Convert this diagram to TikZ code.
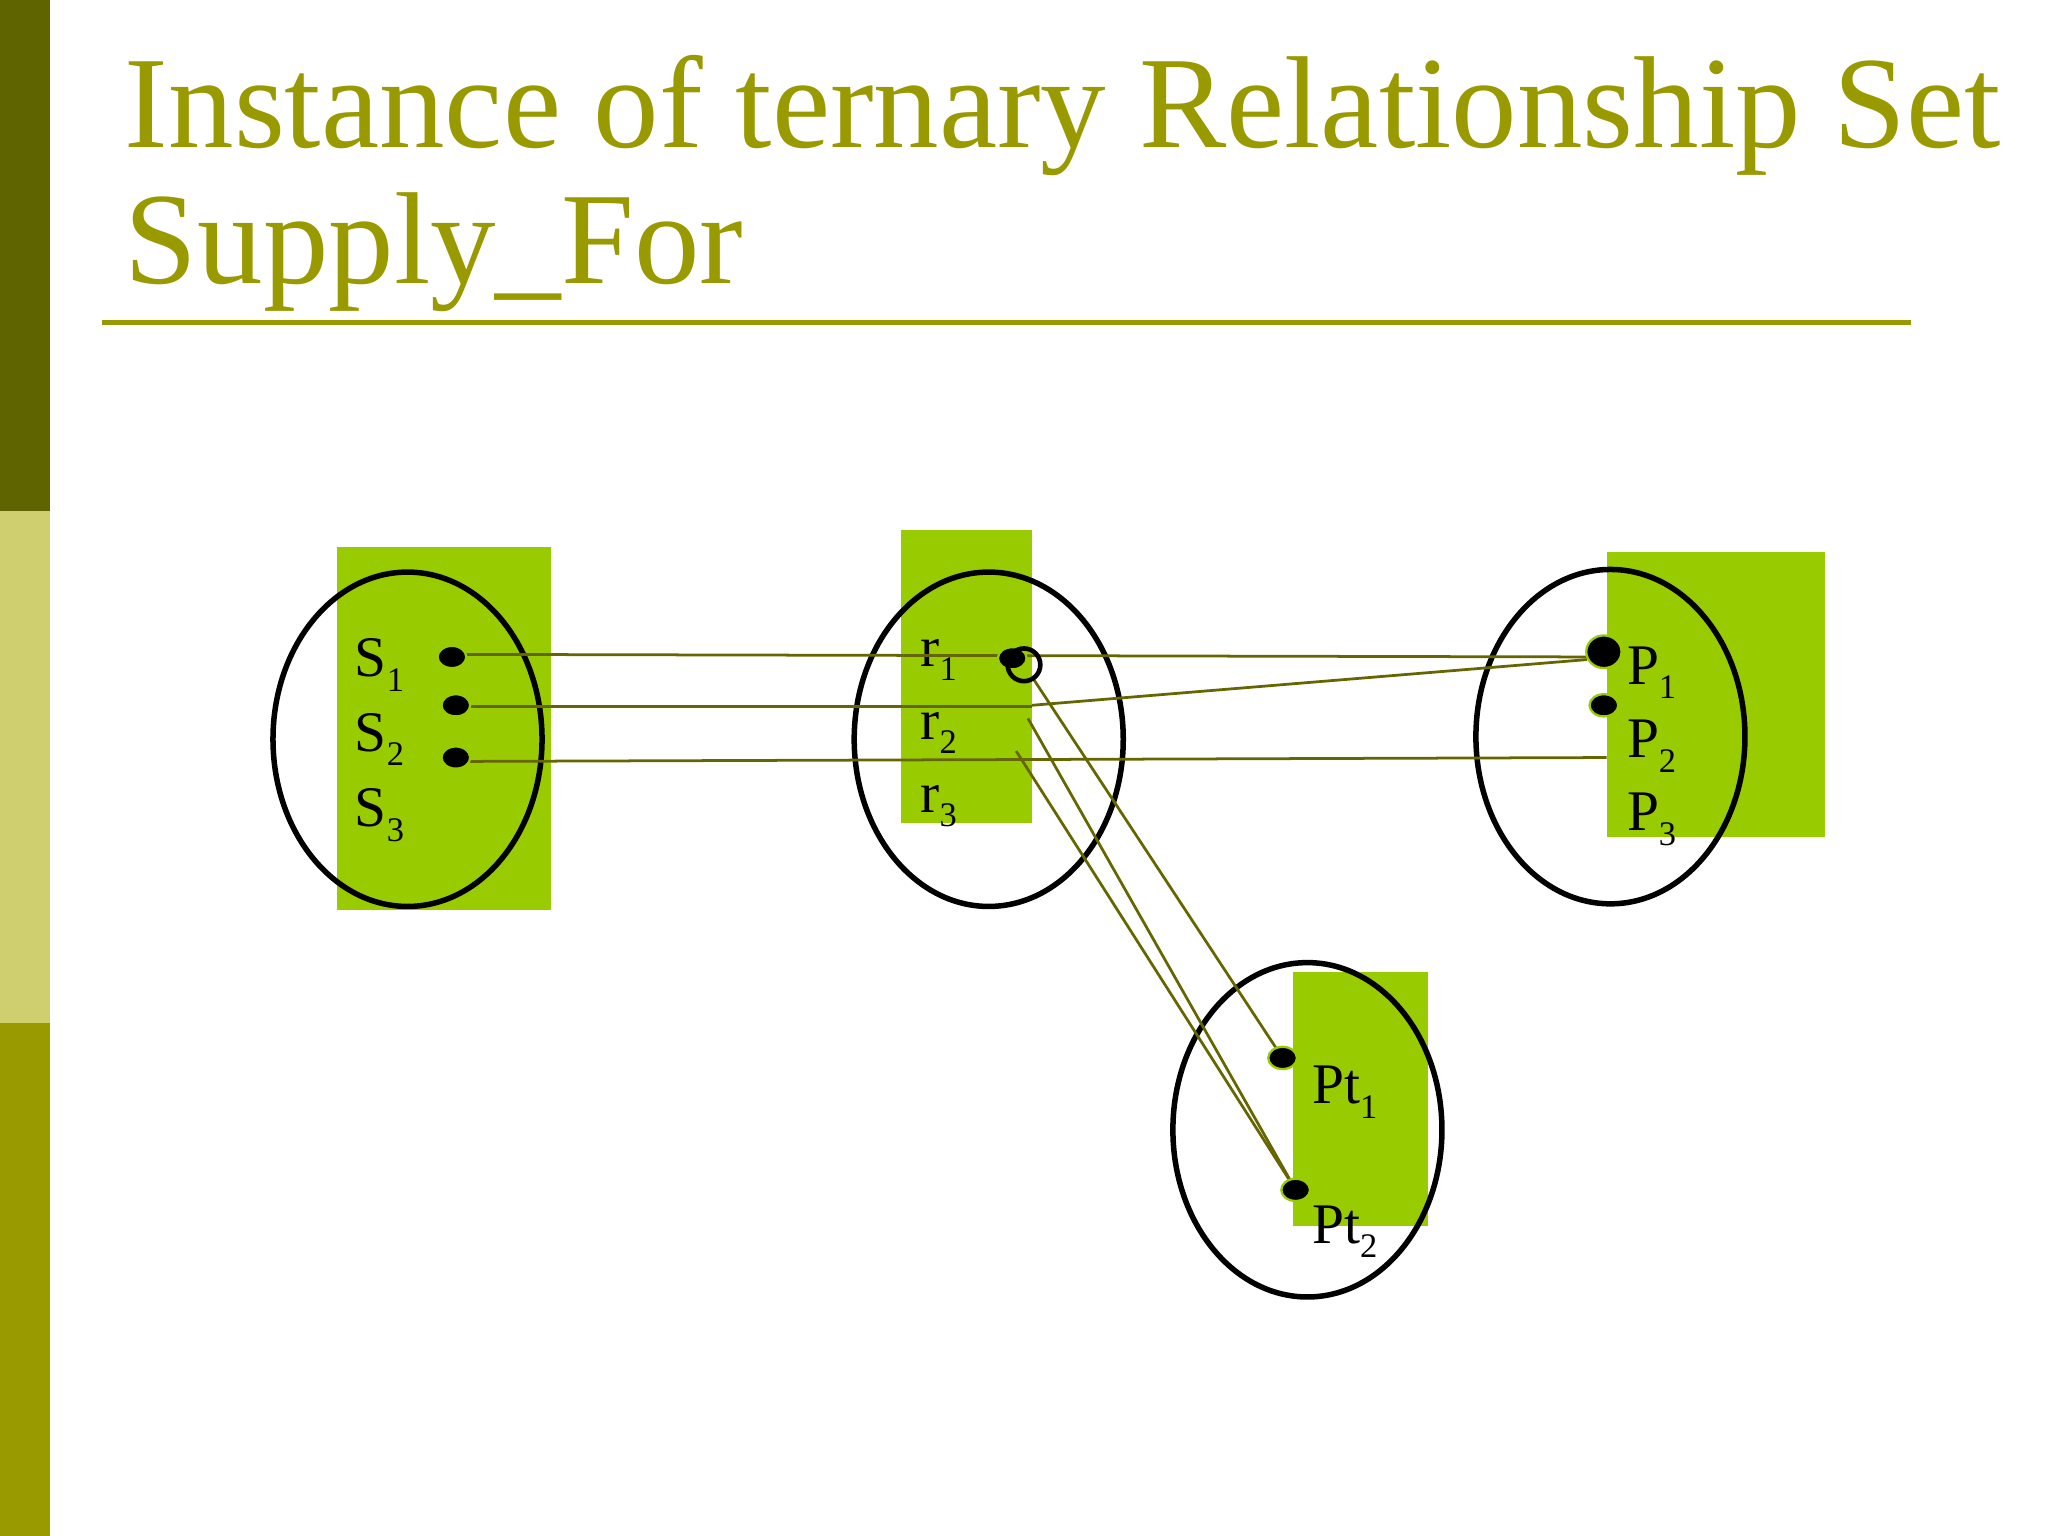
\documentclass[tikz,border=0pt]{standalone}
\usepackage{fontspec}
\setmainfont{Liberation Serif}
\usetikzlibrary{shapes.geometric}
\definecolor{grnc}{RGB}{153,204,0}
\definecolor{bar1}{RGB}{95,99,0}
\definecolor{bar2}{RGB}{207,207,111}
\definecolor{olive}{RGB}{153,153,0}
\definecolor{conc}{RGB}{102,102,0}
\newcommand{\sbs}[1]{\raisebox{-0.55ex}{\fontsize{7.5}{7.5}\selectfont #1}}
\begin{document}
\begin{tikzpicture}[x=0.01cm,y=-0.01cm,
  grn/.style={fill=grnc},
  ell/.style={draw=black,line width=1.2pt},
  dot/.style={ellipse,fill=black,draw=grnc,line width=0.5pt,minimum width=0.22cm,minimum height=0.17cm,inner sep=0},
  con/.style={draw=conc,line width=0.6pt},
  lbl/.style={font=\fontsize{12.5}{12.5}\selectfont,inner sep=0}]
\useasboundingbox (0,0) rectangle (1568,1176);
\fill[white] (0,0) rectangle (1568,1176);
\fill[bar1] (0,0) rectangle (38,391);
\fill[bar2] (0,391) rectangle (38,783);
\fill[olive] (0,783) rectangle (38,1176);
\node[anchor=base west,inner sep=0,text=olive,font=\fontsize{28.5}{28.5}\selectfont] (t1) at (95,113) {Instance of ternary Relationship Set};
\node[anchor=base west,inner sep=0,text=olive,font=\fontsize{28.5}{28.5}\selectfont] (t2) at (95,217) {Supply\_For};
\draw[olive,line width=1.2pt] (78,247) -- (1463,247);
\fill[grn] (258,419) rectangle (422,697);
\fill[grn] (690,406) rectangle (790,630);
\fill[grn] (1230,423) rectangle (1397,641);
\fill[grn] (990,744) rectangle (1093,939);
\draw[ell] (312,566) ellipse [x radius=103,y radius=128];
\draw[ell] (757,566) ellipse [x radius=103,y radius=128];
\draw[ell] (1233,564) ellipse [x radius=103,y radius=128];
\draw[ell] (1001,865) ellipse [x radius=103,y radius=128];
\node[lbl,anchor=base west] (s1) at (271,518) {S\sbs{1}};
\node[lbl,anchor=base west] (s2) at (271,575) {S\sbs{2}};
\node[lbl,anchor=base west] (s3) at (271,633) {S\sbs{3}};
\node[lbl,anchor=base west] (r1) at (704,510) {r\sbs{1}};
\node[lbl,anchor=base west] (r2) at (704,566) {r\sbs{2}};
\node[lbl,anchor=base west] (r3) at (704,622) {r\sbs{3}};
\node[lbl,anchor=base west] (p1) at (1245,524) {P\sbs{1}};
\node[lbl,anchor=base west] (p2) at (1245,580) {P\sbs{2}};
\node[lbl,anchor=base west] (p3) at (1245,636) {P\sbs{3}};
\node[lbl,anchor=base west] (pt1) at (1004,845) {Pt\sbs{1}};
\node[lbl,anchor=base west] (pt2) at (1004,952) {Pt\sbs{2}};
\coordinate (a2) at (790,541);
\coordinate (a3) at (790,540);
\coordinate (a4) at (787,550);
\coordinate (a5) at (778,575);
\coordinate (b3) at (1230,580);
\draw[con] (346,501) -- (1228,503);
\draw[con] (349,541) -- (a2);
\draw[con] (349,583) -- (b3);
\draw[con] (a3) -- (1215,505);
\draw[con] (790,518) -- (982,810);
\draw[con] (a4) -- (992,911);
\draw[con] (a5) -- (992,911);
\node[dot] (d1) at (346,503) {};
\node[dot] (d2) at (349,540) {};
\node[dot] (d3) at (349,580) {};
\node[dot] (dr) at (775,504) {};
\node[circle,draw=black,fill=none,line width=1pt,minimum size=0.25cm,inner sep=0] (rc) at (784,509) {};
\node[dot,minimum width=0.27cm,minimum height=0.25cm] (dp1) at (1228,499) {};
\node[dot] (dp2) at (1228,540) {};
\node[dot] (dq1) at (982,810) {};
\node[dot] (dq2) at (992,911) {};
\end{tikzpicture}
\end{document}
